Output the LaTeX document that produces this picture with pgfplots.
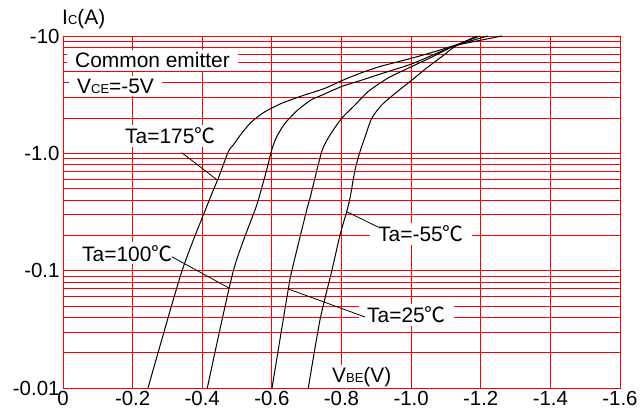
\documentclass[border=0pt]{standalone}
\usepackage{fontspec}
\setmainfont{Liberation Sans}
\newfontfamily\cjk{Noto Sans CJK SC}
\usepackage{pgfplots}
\pgfplotsset{compat=1.18}
\newcommand{\degc}{{\cjk ℃}}
\newcommand{\sub}[1]{{\fontsize{13}{13}\selectfont #1}}
\tikzset{lbl/.style={fill=white, inner xsep=8bp, inner ysep=3bp, anchor=base west,
    font=\fontsize{21}{24}\selectfont}}

\begin{document}
\begin{tikzpicture}
\useasboundingbox (-63bp,-27bp) rectangle (577bp,388bp);
\begin{axis}[
  at={(0,0)}, anchor=south west,
  scale only axis, width=557bp, height=352bp,
  xmin=0, xmax=1.6, ymode=log, ymin=0.01, ymax=10,
  xtick={0,0.2,0.4,0.6,0.8,1.0,1.2,1.4,1.6},
  xticklabels={0,-0.2,-0.4,-0.6,-0.8,-1.0,-1.2,-1.4,-1.6},
  ytick={0.01,0.1,1,10},
  yticklabels={-0.01,-0.1,-1.0,-10},
  minor ytick={0.02,0.03,0.04,0.05,0.06,0.07,0.08,0.09,0.2,0.3,0.4,0.5,0.6,0.7,0.8,0.9,2,3,4,5,6,7,8,9},
  grid=both,
  major grid style={red, line width=0.9bp},
  minor grid style={red, line width=0.7bp},
  axis line style={red, line width=0.9bp},
  major tick length=0pt, minor tick length=0pt,
  tick label style={font=\fontsize{20.5}{24}\selectfont},
  /pgf/number format/assume math mode=true,
  clip=false,
  every axis plot post/.append style={black, line width=1bp, mark=none, smooth, tension=0.4},
]
% Ta=175
\addplot coordinates {(0.2442,0.01) (0.3418,0.0994) (0.4223,0.4139) (0.4461,0.6128)
  (0.4748,1.033) (0.4892,1.178) (0.5133,1.482) (0.5420,1.861) (0.5802,2.264)
  (0.6282,2.670) (0.6857,3.082) (0.7526,3.583) (0.8006,4.159) (0.8531,4.810)
  (0.9106,5.496) (0.9988,6.432) (1.0743,7.452) (1.1260,8.301) (1.2610,10)};
% Ta=100
\addplot coordinates {(0.4145,0.01) (0.4892,0.0994) (0.5515,0.3290)
  (0.5610,0.4002) (0.5851,0.7211) (0.5995,1.068) (0.6139,1.386) (0.6377,1.803)
  (0.6759,2.363) (0.7144,2.876) (0.7382,3.082) (0.8006,3.713) (0.8531,4.159)
  (0.9249,4.887) (0.9988,5.738) (1.0743,7.136) (1.1260,8.301) (1.2208,10)};
% Ta=25
\addplot coordinates {(0.6004,0.01) (0.6472,0.0698) (0.6578,0.1013) (0.7000,0.3290)
  (0.7095,0.4139) (0.7431,1.033) (0.7670,1.433) (0.8006,1.989) (0.8388,2.582)
  (0.8761,3.353) (0.9336,4.386) (0.9988,5.444) (1.0542,6.495) (1.1260,8.301)
  (1.1978,10)};
% Ta=-55
\addplot coordinates {(0.7046,0.01) (0.7382,0.0380) (0.7727,0.1013) (0.7957,0.2014)
  (0.8149,0.3182) (0.8244,0.4139) (0.8388,0.7211) (0.8531,1.033) (0.8675,1.378)
  (0.8868,1.989) (0.9155,2.582) (0.9537,3.236) (0.9988,4.136) (1.0447,5.339)
  (1.0924,6.822) (1.1260,8.140) (1.1884,10)};

\node[lbl] at (rel axis cs:0.0072,0.9091) {Common emitter};
\node[lbl] at (rel axis cs:0.0108,0.838) {V\sub{CE}=-5V};
\node[lbl] at (rel axis cs:0.0969,0.6932) {Ta=175\degc};
\node[lbl] at (rel axis cs:0.0197,0.3608) {Ta=100\degc};
\node[lbl] at (rel axis cs:0.5512,0.4156) {Ta=-55\degc};
\node[lbl] at (rel axis cs:0.5314,0.1847) {Ta=25\degc};
\node[lbl, inner ysep=2bp] at (rel axis cs:0.4686,0.017) {V\sub{BE}(V)};
\node[anchor=base west, inner sep=0pt, font=\fontsize{21}{24}\selectfont]
  at (rel axis cs:-0.0018,1.0313) {I\sub{C}(A)};

\draw[black, line width=0.8bp] (rel axis cs:0.2131,0.6685) -- (rel axis cs:0.2770,0.5909);
\draw[black, line width=0.8bp] (rel axis cs:0.1952,0.3730) -- (rel axis cs:0.2990,0.2832);
\draw[black, line width=0.8bp] (rel axis cs:0.5093,0.5009) -- (rel axis cs:0.5655,0.4574);
\draw[black, line width=0.8bp] (rel axis cs:0.4045,0.2813) -- (rel axis cs:0.5422,0.2017);
\end{axis}
\end{tikzpicture}
\end{document}
